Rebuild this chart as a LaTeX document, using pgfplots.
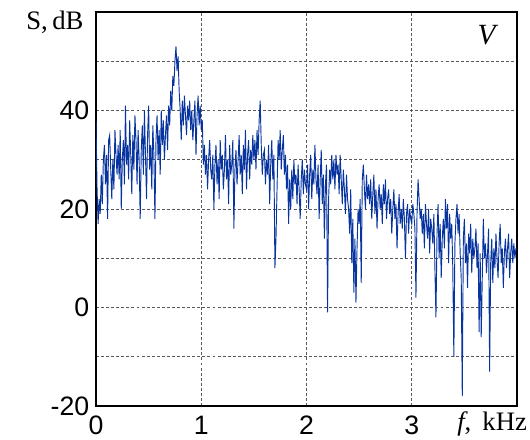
\documentclass[border=0pt]{standalone}
\usepackage{fontspec}
\setmainfont{Liberation Serif}
\newfontfamily\arial{Liberation Sans}
\usepackage{pgfplots}
\pgfplotsset{compat=1.18}
\definecolor{specblue}{RGB}{8,52,160}

\begin{document}
\begin{tikzpicture}
\begin{axis}[
  scale only axis, width=315.75pt, height=295.5pt,
  xmin=0, xmax=4, ymin=-20, ymax=60,
  xtick={0,1,2,3}, ytick={-20,0,20,40}, minor ytick={-10,10,30,50},
  grid=both,
  major grid style={dash pattern=on 2.2pt off 1.6pt, black!65, line width=0.6pt},
  minor grid style={dash pattern=on 2.2pt off 1.6pt, black!65, line width=0.6pt},
  major tick length=0pt, minor tick length=0pt,
  ticklabel style={font=\arial\fontsize{20}{20}\selectfont},
  xticklabel style={yshift=-4pt},
  yticklabel style={xshift=-1.5pt},
  /pgf/number format/assume math mode=true,
  axis line style={black, line width=0.8pt},
  clip mode=individual,
]
\addplot[specblue, line width=0.7pt] coordinates {
(0.00,38) (0.01,24) (0.02,17) (0.03,22) (0.04,19) (0.05,27) (0.06,21) (0.07,30) (0.08,33) (0.09,25)
(0.10,31) (0.11,18) (0.12,34) (0.13,35) (0.14,28) (0.15,22) (0.16,30) (0.17,24) (0.18,36) (0.19,31)
(0.20,27) (0.21,33) (0.22,26) (0.23,36) (0.24,20) (0.25,30) (0.26,34) (0.27,25) (0.28,41) (0.29,29)
(0.30,33) (0.31,26) (0.32,38) (0.33,31) (0.34,23) (0.35,35) (0.36,28) (0.37,39) (0.38,34) (0.39,25)
(0.40,36) (0.41,30) (0.42,18) (0.43,32) (0.44,37) (0.45,27) (0.46,40) (0.47,31) (0.48,22) (0.49,35)
(0.50,41) (0.51,28) (0.52,33) (0.53,24) (0.54,37) (0.55,31) (0.56,18) (0.57,34) (0.58,39) (0.59,30)
(0.60,36) (0.61,27) (0.62,40) (0.63,33) (0.64,38) (0.65,30) (0.66,35) (0.67,39) (0.68,32) (0.69,41)
(0.70,37) (0.71,44) (0.72,40) (0.73,47) (0.74,45) (0.75,50) (0.76,53) (0.77,48) (0.78,51) (0.79,44)
(0.80,40) (0.81,34) (0.82,42) (0.83,37) (0.84,43) (0.85,39) (0.86,35) (0.87,41) (0.88,38) (0.89,42)
(0.90,36) (0.91,40) (0.92,34) (0.93,38) (0.94,42) (0.95,31) (0.96,39) (0.97,43) (0.98,37) (0.99,41)
(1.00,36) (1.01,38) (1.02,29) (1.03,33) (1.04,27) (1.05,31) (1.06,24) (1.07,30) (1.08,34) (1.09,28)
(1.10,26) (1.11,31) (1.12,20) (1.13,29) (1.14,33) (1.15,25) (1.16,30) (1.17,22) (1.18,34) (1.19,28)
(1.20,31) (1.21,24) (1.22,28) (1.23,35) (1.24,26) (1.25,30) (1.26,21) (1.27,33) (1.28,27) (1.29,29)
(1.30,34) (1.31,16) (1.32,28) (1.33,32) (1.34,25) (1.35,30) (1.36,35) (1.37,27) (1.38,31) (1.39,23)
(1.40,33) (1.41,28) (1.42,36) (1.43,24) (1.44,31) (1.45,34) (1.46,26) (1.47,32) (1.48,29) (1.49,35)
(1.50,30) (1.51,34) (1.52,28) (1.53,36) (1.54,31) (1.55,38) (1.56,42) (1.57,33) (1.58,27) (1.59,31)
(1.60,32) (1.61,25) (1.62,30) (1.63,27) (1.64,33) (1.65,21) (1.66,29) (1.67,34) (1.68,26) (1.69,31)
(1.70,8) (1.71,14) (1.72,24) (1.73,34) (1.74,30) (1.75,36) (1.76,28) (1.77,32) (1.78,35) (1.79,27)
(1.80,31) (1.81,24) (1.82,29) (1.83,17) (1.84,26) (1.85,20) (1.86,28) (1.87,22) (1.88,30) (1.89,25)
(1.90,27) (1.91,21) (1.92,29) (1.93,24) (1.94,18) (1.95,26) (1.96,30) (1.97,23) (1.98,28) (1.99,25)
(2.00,24) (2.01,29) (2.02,20) (2.03,27) (2.04,31) (2.05,22) (2.06,28) (2.07,25) (2.08,33) (2.09,26)
(2.10,23) (2.11,29) (2.12,18) (2.13,26) (2.14,32) (2.15,21) (2.16,27) (2.17,14) (2.18,25) (2.19,29)
(2.20,-1) (2.21,22) (2.22,28) (2.23,25) (2.24,31) (2.25,26) (2.26,30) (2.27,24) (2.28,31) (2.29,27)
(2.30,29) (2.31,23) (2.32,31) (2.33,26) (2.34,21) (2.35,28) (2.36,24) (2.37,19) (2.38,27) (2.39,22)
(2.40,20) (2.41,15) (2.42,24) (2.43,9) (2.44,18) (2.45,3) (2.46,14) (2.47,1) (2.48,12) (2.49,20)
(2.50,17) (2.51,22) (2.52,5) (2.53,26) (2.54,29) (2.55,24) (2.56,20) (2.57,27) (2.58,22) (2.59,25)
(2.60,21) (2.61,26) (2.62,18) (2.63,23) (2.64,27) (2.65,19) (2.66,24) (2.67,16) (2.68,22) (2.69,25)
(2.70,20) (2.71,23) (2.72,17) (2.73,25) (2.74,21) (2.75,26) (2.76,18) (2.77,22) (2.78,24) (2.79,19)
(2.80,22) (2.81,15) (2.82,20) (2.83,24) (2.84,18) (2.85,21) (2.86,12) (2.87,19) (2.88,23) (2.89,17)
(2.90,20) (2.91,16) (2.92,22) (2.93,18) (2.94,10) (2.95,19) (2.96,21) (2.97,15) (2.98,20) (2.99,18)
(3.00,17) (3.01,21) (3.02,19) (3.03,16) (3.04,2) (3.05,19) (3.06,26) (3.07,22) (3.08,18) (3.09,20)
(3.10,15) (3.11,19) (3.12,12) (3.13,21) (3.14,17) (3.15,14) (3.16,20) (3.17,11) (3.18,18) (3.19,16)
(3.20,13) (3.21,19) (3.22,8) (3.23,-2) (3.24,15) (3.25,21) (3.26,10) (3.27,17) (3.28,6) (3.29,14)
(3.30,18) (3.31,12) (3.32,22) (3.33,16) (3.34,21) (3.35,9) (3.36,19) (3.37,14) (3.38,17) (3.39,8)
(3.40,-10) (3.41,13) (3.42,18) (3.43,21) (3.44,15) (3.45,19) (3.46,11) (3.47,6) (3.48,-18) (3.49,14)
(3.50,18) (3.51,9) (3.52,13) (3.53,4) (3.54,15) (3.55,11) (3.56,17) (3.57,7) (3.58,14) (3.59,10)
(3.60,12) (3.61,16) (3.62,8) (3.63,13) (3.64,-5) (3.65,11) (3.66,-6) (3.67,6) (3.68,18) (3.69,10)
(3.70,13) (3.71,7) (3.72,11) (3.73,16) (3.74,-13) (3.75,9) (3.76,14) (3.77,5) (3.78,12) (3.79,8)
(3.80,15) (3.81,10) (3.82,6) (3.83,13) (3.84,17) (3.85,9) (3.86,12) (3.87,4) (3.88,11) (3.89,14)
(3.90,8) (3.91,12) (3.92,15) (3.93,6) (3.94,11) (3.95,14) (3.96,9) (3.97,13) (3.98,10) (3.99,12)
};
\coordinate (bl) at (rel axis cs:0,0);
\coordinate (tr) at (rel axis cs:1,1);
\node[anchor=center, font=\fontsize{20}{20}\selectfont, inner sep=0pt] at (axis cs:-0.39,57.9) {S,\,dB};
\node[anchor=west, font=\fontsize{20}{20}\selectfont, inner sep=0pt] at (axis cs:3.43,-23.7) {\textit{f},\, kHz};
\node[anchor=center, font=\fontsize{22}{22}\selectfont\itshape, inner sep=0pt] at (axis cs:3.71,55.4) {V};
\end{axis}
\pgfresetboundingbox
\path ([shift={(-72pt,-24.75pt)}]bl) rectangle ([shift={(9.75pt,9pt)}]tr);
\end{tikzpicture}
\end{document}
